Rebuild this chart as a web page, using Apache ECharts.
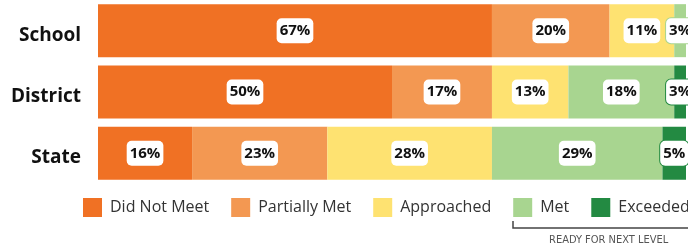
<!DOCTYPE html>
<html>
<head>
<meta charset="utf-8">
<script src="https://cdn.jsdelivr.net/npm/echarts@6/dist/echarts.min.js"></script>
<style>
  html, body { margin: 0; padding: 0; background: #fff; }
  #chart { width: 688px; height: 249px; }
</style>
</head>
<body>
<div id="chart"></div>
<script>
// rows, top to bottom
var groups = ["School", "District", "State"];
var levels = ["Did Not Meet", "Partially Met", "Approached", "Met", "Exceeded"];
var colors = ["#f07124", "#f39852", "#fee271", "#a8d590", "#238a42"];

// percent per level, in the order of groups
var didNotMeet = [67, 50, 16];
var partiallyMet = [20, 17, 23];
var approached = [11, 13, 28];
var met = [3, 18, 29];
var exceeded = [0, 3, 5];

var values = [didNotMeet, partiallyMet, approached, met, exceeded];

var series = levels.map(function (name, i) {
  return {
    name: name,
    type: "bar",
    stack: "total",
    barWidth: 53,
    itemStyle: { color: colors[i] },
    label: {
      show: true,
      position: "inside",
      formatter: function (p) { return p.value > 0 ? p.value + "%" : ""; },
      color: "#111",
      fontFamily: "Open Sans",
      fontWeight: "bold",
      fontSize: 15,
      backgroundColor: "#fff",
      borderColor: colors[i],
      borderWidth: 1,
      borderRadius: 5,
      padding: [6, 3, 4, 3]
    },
    data: values[i]
  };
});

var myChart = echarts.init(document.getElementById("chart"));
var option = {
  animation: false,
  grid: { left: 98, top: 0, width: 588, height: 184 },
  xAxis: { type: "value", min: 0, max: 100, show: false },
  yAxis: {
    type: "category",
    data: groups,
    inverse: true,
    axisLine: { show: false },
    axisTick: { show: false },
    axisLabel: {
      margin: 17,
      formatter: "{g|{value}}",
      rich: {
        g: {
          color: "#111",
          fontFamily: "Open Sans",
          fontWeight: "bold",
          fontSize: 19,
          padding: [9, 0, 0, 0]
        }
      }
    }
  },
  legend: {
    left: 83,
    top: 198,
    padding: 0,
    width: 640,
    icon: "rect",
    itemWidth: 19,
    itemHeight: 19,
    itemGap: 22,
    data: levels,
    textStyle: {
      color: "#333",
      fontFamily: "Open Sans",
      fontSize: 16,
      padding: [0, 0, 0, 3]
    }
  },
  graphic: [
    {
      type: "polyline",
      shape: { points: [[513, 221], [513, 228], [700, 228]] },
      style: { stroke: "#444", lineWidth: 1.5, fill: null }
    },
    {
      type: "text",
      left: 549,
      top: 235,
      style: {
        text: "READY FOR NEXT LEVEL",
        fill: "#555",
        font: "11px 'Liberation Sans Narrow', 'DejaVu Sans Condensed', sans-serif"
      }
    }
  ],
  series: series
};
myChart.setOption(option);
</script>
</body>
</html>
